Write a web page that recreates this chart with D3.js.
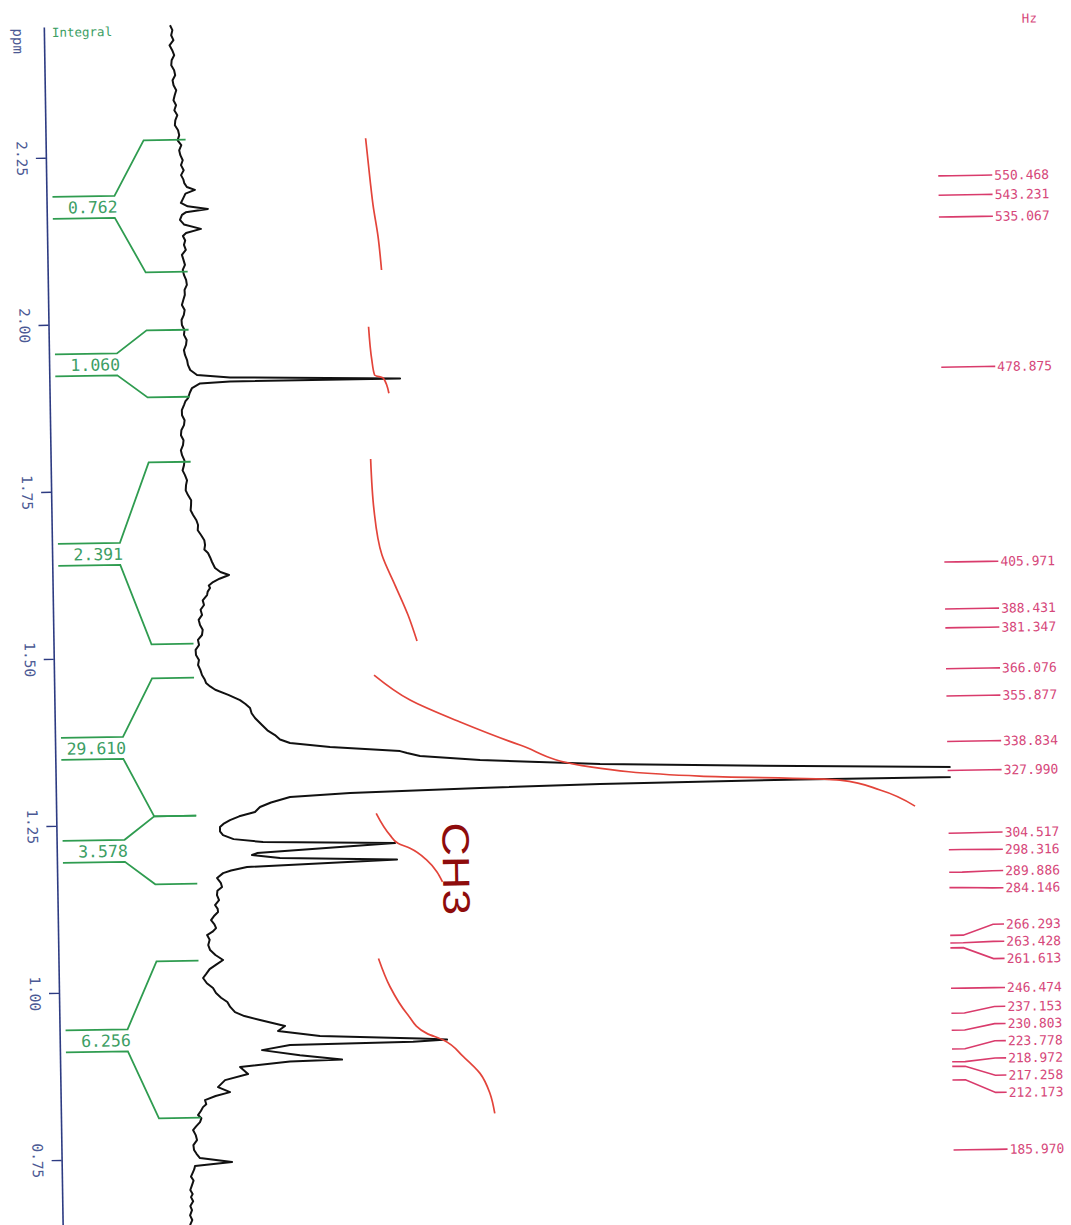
<!DOCTYPE html>
<html>
<head>
<meta charset="utf-8">
<style>
  body { margin: 0; background: #fff; }
  svg { display: block; }
  text { font-family: "DejaVu Sans Mono", "Liberation Mono", monospace; }
</style>
</head>
<body>
<svg width="1071" height="1225"></svg>
<script src="https://cdn.jsdelivr.net/npm/d3@7/dist/d3.min.js"></script>
<script>
// 1H spectrum, 250 MHz, plotted portrait (ppm downwards, intensity to the right)
var MHZ = 250;

var ppmTicks = [2.25, 2.00, 1.75, 1.50, 1.25, 1.00, 0.75];

// trace: [chemical shift (ppm), intensity (a.u.)]
// the main CH2 line runs off the plot (clipped at the right edge)
var trace = [
  [2.4453, -0.8], [2.4380, 1.5], [2.4303, 0.2], [2.4230, 2.4], [2.4154, -1.6], [2.4080, 1.0],
  [2.4004, 2.9], [2.3930, 0.3], [2.3854, -0.2], [2.3780, 2.6], [2.3705, 3.6], [2.3630, 0.9],
  [2.3555, 1.8], [2.3480, 4.4], [2.3405, 2.8], [2.3330, 1.5], [2.3256, 4.0], [2.3180, 2.2],
  [2.3106, 5.1], [2.3030, 3.0], [2.2956, 2.5], [2.2880, 5.6], [2.2807, 6.7], [2.2730, 5.0],
  [2.2657, 8.6], [2.2580, 6.4], [2.2507, 7.5], [2.2430, 9.8], [2.2358, 8.0], [2.2280, 10.6],
  [2.2208, 7.9], [2.2140, 10.2], [2.2088, 11.0], [2.2030, 13.5], [2.1984, 21.5], [2.1930, 12.0],
  [2.1852, 9.4], [2.1792, 7.3], [2.1740, 14.0], [2.1696, 34.2], [2.1650, 12.0], [2.1613, 8.2],
  [2.1538, 6.1], [2.1470, 10.0], [2.1399, 26.9], [2.1340, 12.0], [2.1298, 8.8], [2.1230, 11.0],
  [2.1164, 9.7], [2.1090, 11.5], [2.1014, 7.5], [2.0940, 9.0], [2.0864, 10.4], [2.0790, 8.1],
  [2.0715, 9.2], [2.0640, 11.3], [2.0565, 12.0], [2.0490, 9.6], [2.0415, 9.8], [2.0340, 8.2],
  [2.0266, 6.7], [2.0190, 9.4], [2.0116, 8.5], [2.0040, 6.1], [1.9966, 6.4], [1.9890, 8.9],
  [1.9817, 8.3], [1.9740, 10.9], [1.9667, 10.2], [1.9590, 8.0], [1.9517, 9.0], [1.9440, 11.0],
  [1.9368, 11.8], [1.9290, 14.0], [1.9213, 20.7], [1.9169, 53.7], [1.9114, 223.7], [1.9109, 53.6],
  [1.9086, 23.6], [1.9020, 15.5], [1.8950, 13.2], [1.8871, 11.4], [1.8820, 8.6], [1.8766, 7.2],
  [1.8690, 5.0], [1.8616, 5.1], [1.8540, 7.6], [1.8467, 6.9], [1.8390, 4.2], [1.8317, 3.7],
  [1.8240, 6.2], [1.8167, 5.6], [1.8090, 3.4], [1.8018, 4.5], [1.7940, 6.8], [1.7868, 6.3],
  [1.7790, 4.8], [1.7718, 7.1], [1.7640, 9.1], [1.7568, 8.0], [1.7490, 7.6], [1.7419, 9.8],
  [1.7340, 12.9], [1.7269, 12.7], [1.7190, 12.2], [1.7120, 14.6], [1.7040, 17.8], [1.6969, 19.4],
  [1.6890, 19.0], [1.6819, 22.2], [1.6740, 25.4], [1.6668, 26.1], [1.6600, 25.3], [1.6548, 28.9],
  [1.6480, 31.0], [1.6412, 32.8], [1.6322, 35.7], [1.6260, 41.0], [1.6213, 49.6], [1.6160, 40.0],
  [1.6112, 33.5], [1.6060, 29.2], [1.6023, 30.4], [1.5970, 28.0], [1.5919, 27.3], [1.5840, 22.9],
  [1.5770, 24.1], [1.5700, 20.6], [1.5622, 22.0], [1.5550, 18.5], [1.5472, 19.8], [1.5400, 22.4],
  [1.5322, 21.6], [1.5250, 17.5], [1.5173, 18.5], [1.5100, 15.0], [1.5025, 15.3], [1.4950, 18.2],
  [1.4874, 17.2], [1.4800, 19.4], [1.4724, 21.0], [1.4660, 23.5], [1.4603, 24.9], [1.4550, 29.0],
  [1.4499, 34.0], [1.4420, 47.0], [1.4339, 58.6], [1.4280, 64.0], [1.4218, 68.5], [1.4140, 70.0],
  [1.4068, 73.3], [1.3960, 80.2], [1.3880, 85.5], [1.3808, 93.0], [1.3740, 98.0], [1.3685, 107.9],
  [1.3616, 147.9], [1.3538, 217.8], [1.3507, 224.8], [1.3459, 237.7], [1.3386, 297.7], [1.3297, 417.6],
  [1.3221, 617.6], [1.3027, 1192], [1.3019, 617.4], [1.3000, 417.3], [1.2967, 297.1], [1.2922, 167.2],
  [1.2877, 107.1], [1.2800, 88.0], [1.2734, 76.9], [1.2661, 71.8], [1.2600, 56.0], [1.2546, 46.7],
  [1.2490, 40.0], [1.2444, 36.6], [1.2380, 36.5], [1.2323, 39.5], [1.2260, 50.0], [1.2209, 79.4],
  [1.2163, 211.4], [1.2046, 73.2], [1.2018, 68.2], [1.1965, 96.1], [1.1916, 213.1], [1.1840, 63.0],
  [1.1790, 47.0], [1.1754, 39.0], [1.1681, 32.9], [1.1610, 36.5], [1.1546, 37.7], [1.1490, 33.0],
  [1.1427, 32.5], [1.1350, 34.5], [1.1278, 30.4], [1.1220, 33.0], [1.1172, 33.3], [1.1110, 29.0],
  [1.1054, 26.2], [1.0990, 29.5], [1.0933, 31.1], [1.0880, 27.5], [1.0831, 22.0], [1.0760, 24.5],
  [1.0680, 23.0], [1.0605, 24.8], [1.0530, 30.0], [1.0454, 37.6], [1.0390, 31.0], [1.0320, 24.0],
  [1.0250, 20.5], [1.0189, 17.3], [1.0110, 21.0], [1.0036, 27.1], [0.9960, 30.0], [0.9890, 35.0],
  [0.9824, 41.2], [0.9750, 44.0], [0.9671, 48.7], [0.9610, 58.0], [0.9547, 73.6], [0.9451, 98.5],
  [0.9378, 91.4], [0.9292, 133.3], [0.9232, 233.3], [0.9210, 260.3], [0.9186, 226.3], [0.9165, 103.2],
  [0.9096, 75.1], [0.9012, 113.0], [0.8936, 155.0], [0.8918, 102.9], [0.8847, 52.9], [0.8741, 60.8],
  [0.8656, 37.7], [0.8553, 30.5], [0.8475, 42.5], [0.8420, 28.0], [0.8362, 17.3], [0.8300, 18.5],
  [0.8257, 15.2], [0.8200, 13.0], [0.8139, 10.1], [0.8090, 13.4], [0.8034, 12.0], [0.7970, 8.0],
  [0.7916, 4.9], [0.7840, 7.5], [0.7765, 8.7], [0.7690, 5.0], [0.7617, 5.6], [0.7560, 8.0],
  [0.7495, 11.4], [0.7428, 43.4], [0.7377, 6.3], [0.7330, 5.5], [0.7287, 4.2], [0.7220, 2.1],
  [0.7160, 4.6], [0.7093, 3.0], [0.7020, 1.2], [0.6960, 3.5], [0.6913, 1.8], [0.6850, 3.9],
  [0.6780, 1.0], [0.6718, 2.6], [0.6640, 0.6], [0.6570, 2.7], [0.6494, 0.4]
];

// integrals: region (ppm from, to) and value
var intFrom = [2.2737, 1.9893, 1.7917, 1.4685, 1.2619, 1.0449];
var intTo = [2.0762, 1.8890, 1.5194, 1.2619, 1.1602, 0.8100];
var intValues = [0.762, 1.060, 2.391, 29.610, 3.578, 6.256];

// running integral curves: [ppm, cumulative value]
var intCurves = [
  [[2.2717, 0], [2.2091, 0.21], [2.1717, 0.35], [2.1241, 0.60], [2.0742, 0.762]],
  [[1.9896, 0], [1.9398, 0.15], [1.9172, 0.29], [1.9121, 0.77], [1.8895, 1.060]],
  [[1.7916, 0], [1.7153, 0.14], [1.6476, 0.54], [1.6024, 1.23], [1.5572, 1.92], [1.5182, 2.391]],
  [[1.4682, 0], [1.4300, 1.96], [1.3959, 4.69], [1.3601, 7.96], [1.3256, 11.8], [1.3094, 17.8],
   [1.3001, 25.5], [1.2843, 27.7], [1.2594, 29.61]],
  [[1.2612, 0], [1.2284, 0.74], [1.2159, 1.17], [1.2081, 1.83], [1.1901, 2.74], [1.1725, 3.28], [1.1573, 3.578]],
  [[1.0440, 0], [1.0014, 0.61], [0.9611, 1.51], [0.9308, 2.59], [0.9204, 3.49], [0.8950, 4.58],
   [0.8697, 5.48], [0.8394, 6.01], [0.8094, 6.256]]
];

// peak list (Hz)
var peakHz = [550.468, 543.231, 535.067, 478.875, 405.971, 388.431, 381.347, 366.076,
  355.877, 338.834, 327.990, 304.517, 298.316, 289.886, 284.146, 266.293, 263.428,
  261.613, 246.474, 237.153, 230.803, 223.778, 218.972, 217.258, 212.173, 185.970];

var navy = "#2d3b82", navyText = "#4b5994", green = "#2f9c50", greenText = "#3c9e64",
    red = "#e3443a", pink = "#d93b6c", pinkText = "#d6477a";

var svg = d3.select("svg");
// the scan is a little tilted
var g = svg.append("g").attr("transform", "rotate(-0.9,53,612)");

var y = d3.scaleLinear().domain([2.25, 0.75]).range([157.7, 1160]);
var yAxisScale = d3.scaleLinear().domain([2.4456, 0.62]).range([y(2.4456), y(0.62)]);
var x = d3.scaleLinear().domain([0, 765]).range([180, 945]);
var xInt = d3.scaleLinear().domain([0, 30]).range([373, 919]);

g.append("clipPath").attr("id", "plotclip")
  .append("rect").attr("x", 0).attr("y", 0).attr("width", x(768)).attr("height", 1300);

// ppm axis
var axis = g.append("g")
  .attr("transform", "translate(53,0)")
  .call(d3.axisLeft(yAxisScale).tickValues(ppmTicks).tickSize(10).tickSizeOuter(0)
    .tickFormat(d3.format(".2f")));
axis.select(".domain").attr("stroke", navy).attr("stroke-width", 1.6);
axis.selectAll(".tick line").attr("stroke", navy).attr("stroke-width", 1.4);
axis.selectAll(".tick text")
  .attr("x", null).attr("dy", "0.35em")
  .attr("transform", "translate(-24,0) rotate(90)")
  .attr("text-anchor", "middle")
  .attr("fill", navyText)
  .style("font-size", "14.5px")
  .style("font-family", '"DejaVu Sans Mono", monospace');

g.append("text")
  .attr("transform", "translate(27,28) rotate(90)")
  .attr("dy", "0.35em")
  .attr("fill", navyText)
  .style("font-size", "14px")
  .text("ppm");

g.append("text")
  .attr("x", 61).attr("y", 37)
  .attr("fill", greenText)
  .style("font-size", "12.5px")
  .text("Integral");

// spectrum
g.append("path")
  .datum(trace)
  .attr("clip-path", "url(#plotclip)")
  .attr("fill", "none")
  .attr("stroke", "#111")
  .attr("stroke-width", 2)
  .attr("stroke-linejoin", "round")
  .attr("d", d3.line().x(function(d) { return x(d[1]); }).y(function(d) { return y(d[0]); }));

// integral curves
g.selectAll("path.icurve")
  .data(intCurves)
  .enter().append("path")
  .attr("class", "icurve")
  .attr("fill", "none")
  .attr("stroke", red)
  .attr("stroke-width", 1.7)
  .attr("d", d3.line().curve(d3.curveMonotoneY)
    .x(function(d) { return xInt(d[1]); })
    .y(function(d) { return y(d[0]); }));

// integral brackets
var L0 = 59, L1 = 121, R0 = 151, R1 = 193;
var brackets = g.selectAll("g.bracket")
  .data(intValues)
  .enter().append("g").attr("class", "bracket");

brackets.append("path")
  .attr("fill", "none")
  .attr("stroke", green)
  .attr("stroke-width", 1.8)
  .attr("d", function(v, i) {
    var yt = y(intFrom[i]), yb = y(intTo[i]), ym = (yt + yb) / 2;
    return "M" + R1 + "," + yt + "H" + R0 + "L" + L1 + "," + (ym - 11) + "H" + L0 +
      "M" + L0 + "," + (ym + 11) + "H" + L1 + "L" + R0 + "," + yb + "H" + R1;
  });

brackets.append("text")
  .attr("x", 124)
  .attr("y", function(v, i) { return (y(intFrom[i]) + y(intTo[i])) / 2; })
  .attr("dy", "0.36em")
  .attr("text-anchor", "end")
  .attr("fill", greenText)
  .style("font-size", "16.5px")
  .text(function(v) { return d3.format(".3f")(v); });

// peak labels, spread so they do not overlap
var gap = 17.2;
var targets = peakHz.map(function(h) { return y(h / MHZ); });
var clusters = targets.map(function(t, i) { return { idx: [i] }; });
function place(c) {
  c.start = d3.mean(c.idx, function(k, j) { return targets[k] - j * gap; });
}
clusters.forEach(place);
var merged = true;
while (merged) {
  merged = false;
  for (var k = 0; k < clusters.length - 1; k++) {
    var a = clusters[k], b = clusters[k + 1];
    if (a.start + a.idx.length * gap > b.start) {
      a.idx = a.idx.concat(b.idx);
      place(a);
      clusters.splice(k + 1, 1);
      merged = true;
      break;
    }
  }
}
var labelY = [];
clusters.forEach(function(c) {
  c.idx.forEach(function(k, j) { labelY[k] = c.start + j * gap; });
});

var peaks = g.selectAll("g.peak")
  .data(peakHz)
  .enter().append("g").attr("class", "peak");

peaks.append("path")
  .attr("fill", "none")
  .attr("stroke", pink)
  .attr("stroke-width", 1.6)
  .attr("d", function(h, i) {
    return "M945," + targets[i] + "H958L988," + labelY[i] + "H999";
  });

peaks.append("text")
  .attr("x", 1001)
  .attr("y", function(h, i) { return labelY[i]; })
  .attr("dy", "0.36em")
  .attr("fill", pinkText)
  .style("font-size", "13px")
  .text(function(h) { return d3.format(".3f")(h); });

g.append("text")
  .attr("x", 1031).attr("y", 38)
  .attr("fill", pinkText)
  .style("font-size", "12.5px")
  .text("Hz");

// hand annotation
g.append("text")
  .attr("transform", "translate(452.5,875) rotate(90)")
  .attr("dy", "0.36em")
  .attr("text-anchor", "middle")
  .attr("textLength", 93)
  .attr("lengthAdjust", "spacingAndGlyphs")
  .attr("fill", "#8e0c0c")
  .style("font-family", '"Liberation Sans", Arial, sans-serif')
  .style("font-size", "38px")
  .text("CH3");
</script>
</body>
</html>
